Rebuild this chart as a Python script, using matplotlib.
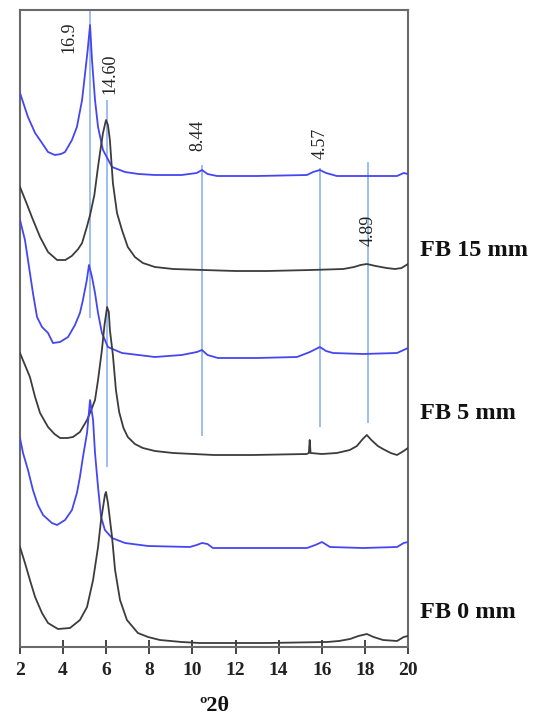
import matplotlib
matplotlib.use("Agg")
import matplotlib.pyplot as plt

plt.rcParams['font.family'] = ['Liberation Serif', 'DejaVu Serif']

# ---- data (2theta in degrees, stacked intensity in arbitrary units) ----
x_b15 = [2.0, 2.2, 2.37, 2.7, 3.02, 3.3, 3.62, 3.9, 4.09, 4.41, 4.64, 4.88, 5.0, 5.14, 5.25,
         5.34, 5.48, 5.62, 5.85, 6.27, 6.87, 7.5, 8.26, 9.5, 10.2, 10.44, 10.7, 11.14, 13.0,
         15.31, 15.6, 15.91, 16.2, 16.70, 18.0, 19.49, 19.8, 20.0]
y_b15 = [554, 541, 530, 514, 504, 495, 492, 493, 495, 507, 520, 547, 570, 597, 622,
         587, 547, 520, 497, 480, 475, 473, 472, 472, 474, 477, 473, 471, 471,
         472, 475, 477, 474, 471, 471, 471, 474, 473]

x_k15 = [2.0, 2.3, 2.55, 2.93, 3.3, 3.72, 4.1, 4.4, 4.7, 4.88, 5.1, 5.25, 5.45, 5.6, 5.71,
         5.85, 5.99, 6.08, 6.17, 6.31, 6.5, 6.73, 7.0, 7.33, 7.7, 8.26, 9.1, 10.5, 12.0,
         13.46, 15.5, 17.0, 17.5, 17.8, 18.09, 18.5, 19.0, 19.4, 19.7, 20.0]
y_k15 = [460, 444, 430, 410, 395, 387, 387, 391, 398, 404, 420, 432, 452, 477, 494,
         514, 527, 522, 507, 464, 434, 417, 400, 390, 384, 380, 378, 377, 376,
         376, 377, 378, 380, 382, 383, 381, 379, 378, 379, 383]

x_b5 = [2.0, 2.23, 2.37, 2.6, 2.79, 3.02, 3.3, 3.53, 3.86, 4.23, 4.55, 4.78, 4.92, 5.1, 5.2,
        5.34, 5.48, 5.62, 5.8, 6.08, 6.73, 8.26, 9.5, 10.21, 10.44, 10.7, 11.18, 13.0, 14.85,
        15.45, 15.91, 16.2, 16.52, 17.91, 19.49, 19.8, 20.0]
y_b5 = [427, 407, 387, 354, 330, 320, 314, 304, 305, 310, 322, 334, 347, 367, 382,
        370, 354, 334, 314, 300, 294, 290, 292, 295, 297, 292, 289, 289, 290,
        295, 300, 296, 294, 293, 294, 297, 299]

x_k5 = [2.0, 2.46, 2.7, 2.93, 3.3, 3.6, 3.86, 4.2, 4.46, 4.78, 5.11, 5.34, 5.48, 5.62, 5.8,
        5.92, 6.04, 6.12, 6.17, 6.31, 6.45, 6.6, 6.8, 7.0, 7.33, 7.7, 8.26, 9.1, 11.0, 12.81,
        15.3, 15.4, 15.44, 15.48, 16.0, 16.7, 17.3, 17.63, 17.9, 18.09, 18.3, 18.6, 18.84,
        19.2, 19.49, 19.8, 20.0]
y_k5 = [294, 270, 250, 234, 220, 213, 209, 209, 210, 215, 227, 239, 247, 267, 297,
        322, 340, 335, 317, 292, 257, 235, 219, 210, 203, 199, 196, 194, 192, 192,
        193, 194, 207, 194, 193, 194, 197, 201, 208, 212, 207, 201, 198,
        194, 192, 196, 199]

x_b0 = [2.0, 2.14, 2.37, 2.6, 2.83, 3.07, 3.48, 3.72, 4.09, 4.41, 4.64, 4.78, 4.92, 5.11,
        5.25, 5.39, 5.48, 5.62, 5.76, 5.94, 6.27, 6.87, 7.94, 9.88, 10.2, 10.44, 10.7, 10.95,
        15.31, 15.7, 16.01, 16.38, 17.91, 19.49, 19.8, 20.0]
y_b0 = [209, 194, 177, 157, 142, 132, 124, 122, 127, 137, 154, 170, 190, 214,
        247, 227, 194, 160, 130, 117, 109, 104, 101, 100, 102, 104, 103, 99,
        99, 102, 105, 100, 99, 100, 104, 105]

x_k0 = [2.0, 2.23, 2.46, 2.7, 3.02, 3.3, 3.76, 4.32, 4.78, 5.11, 5.39, 5.62, 5.76, 5.94,
        5.99, 6.08, 6.27, 6.41, 6.64, 6.96, 7.47, 7.94, 8.49, 9.5, 10.35, 13.46, 16.24, 16.8,
        17.31, 17.7, 18.09, 18.4, 18.84, 19.49, 19.8, 20.0]
y_k0 = [100, 84, 67, 50, 34, 24, 18, 19, 27, 40, 67, 100, 127, 152,
        155, 144, 110, 77, 47, 27, 14, 10, 7, 5, 4, 4, 5, 6,
        8, 11, 13, 10, 7, 6, 10, 11]

# reflections (d-spacing labels) and their marker lines
peak_labels = ["16.9", "14.60", "8.44", "4.57", "4.89"]
peak_x = [5.25, 6.04, 10.44, 15.91, 18.14]
peak_line_top = [637, 547, 482, 479, 485]
peak_line_bottom = [329, 180, 211, 220, 224]
peak_label_x = [4.27, 6.17, 10.26, 15.91, 18.14]
peak_label_y = [610, 573, 512, 504, 417]

sample_labels = ["FB 15 mm", "FB 5 mm", "FB 0 mm"]
sample_label_y = [397, 234, 34]

xticks = [2, 4, 6, 8, 10, 12, 14, 16, 18, 20]

# ---- figure ----
fig = plt.figure(figsize=(5.35, 7.18), dpi=100)
ax = fig.add_axes([20 / 535, 1 - 647 / 718, 388 / 535, 637 / 718])

blue = "#4646f0"
dark = "#3c3c3c"
vline_c = "#8fb2ee"

for xs, ys, c in [(x_b15, y_b15, blue), (x_k15, y_k15, dark), (x_b5, y_b5, blue),
                  (x_k5, y_k5, dark), (x_b0, y_b0, blue), (x_k0, y_k0, dark)]:
    ax.plot(xs, ys, color=c, lw=1.3, zorder=3, solid_joinstyle='round')

ax.vlines(peak_x, peak_line_bottom, peak_line_top, color=vline_c, lw=1.2, zorder=2)
for lab, lx, ly in zip(peak_labels, peak_label_x, peak_label_y):
    ax.text(lx, ly, lab, rotation=90, ha='center', va='center', fontsize=13, color='#222222')

trans = ax.get_yaxis_transform()
for lab, ly in zip(sample_labels, sample_label_y):
    ax.text(1.031, ly, lab, transform=trans, ha='left', va='center',
            fontsize=17.5, fontweight='bold', color='#111111')

ax.set_xlim(2, 20)
ax.set_ylim(0, 637)
ax.set_xticks(xticks)
ax.set_xticklabels([str(t) for t in xticks], fontsize=14, fontweight='bold', color='#222222')
ax.set_yticks([])
ax.tick_params(axis='x', direction='inout', length=10, width=1.4, color='#444444', pad=6)
for s in ax.spines.values():
    s.set_color('#6a6a6a')
    s.set_linewidth(1.5)

ax.set_xlabel("º2θ", fontsize=16, fontweight='bold', labelpad=12, color='#111111')

fig.savefig("out.png", dpi=100)
